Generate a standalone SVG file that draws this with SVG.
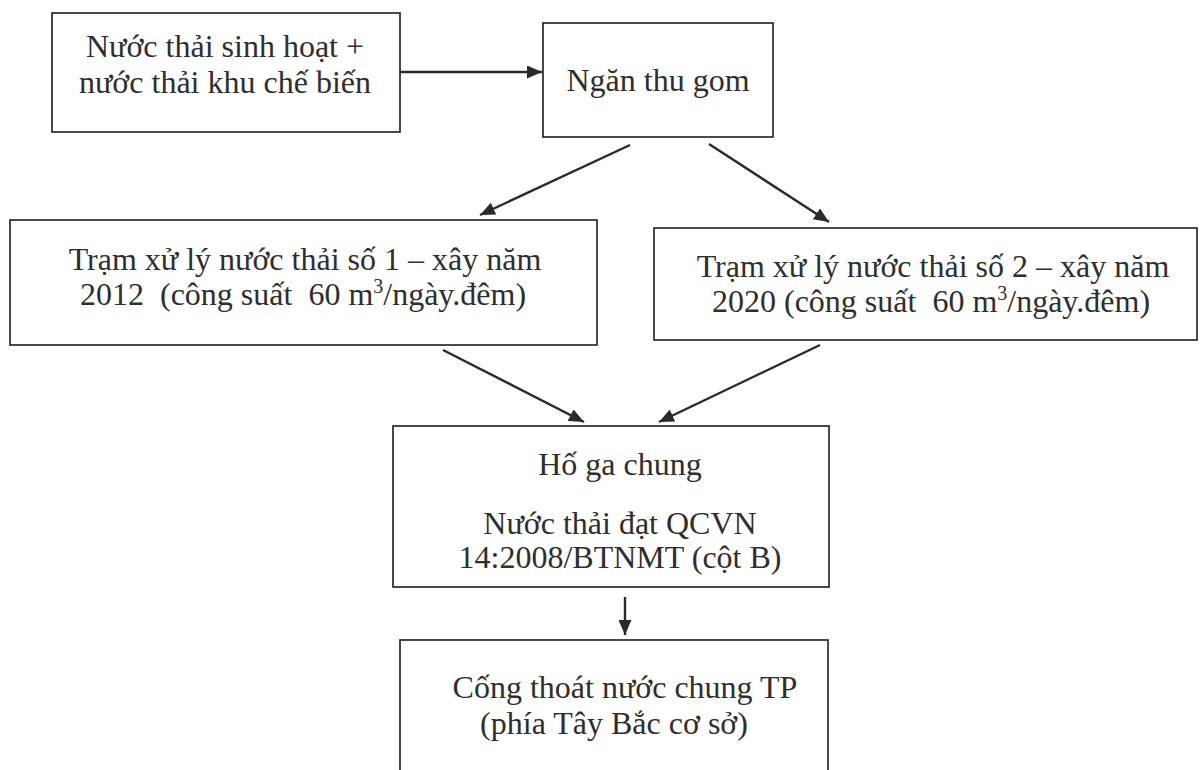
<svg xmlns="http://www.w3.org/2000/svg" width="1200" height="770" viewBox="0 0 1200 770">
  <style>
    .box { fill: none; stroke: #2a2a2a; stroke-width: 1.7; }
    .lbl { font-family: "Liberation Serif", "Times New Roman", serif; font-size: 32px; fill: #2e2e2e; text-anchor: middle; }
    .sup { font-size: 20px; }
    .conn { stroke: #2a2a2a; stroke-width: 2.4; fill: none; marker-end: url(#arrow); }
  </style>
  <defs>
    <marker id="arrow" markerUnits="userSpaceOnUse" markerWidth="16" markerHeight="13" refX="15" refY="6.5" orient="auto">
      <path d="M0,0 L15,6.5 L0,13 Z" fill="#2a2a2a"/>
    </marker>
  </defs>
  <rect width="1200" height="770" fill="#ffffff"/>

  <g id="connectors">
    <line class="conn" x1="400" y1="72" x2="542" y2="72"/>
    <line class="conn" x1="630" y1="145" x2="480" y2="215"/>
    <line class="conn" x1="709" y1="144" x2="829" y2="222"/>
    <line class="conn" x1="443" y1="350" x2="584" y2="422"/>
    <line class="conn" x1="820" y1="345" x2="659" y2="422"/>
    <line class="conn" x1="625" y1="597" x2="625" y2="635"/>
  </g>

  <g id="node-nuoc-thai">
    <rect class="box" x="52" y="13" width="348" height="119"/>
    <text class="lbl" x="225" y="57">Nước thải sinh hoạt +</text>
    <text class="lbl" x="225" y="93">nước thải khu chế biến</text>
  </g>

  <g id="node-ngan-thu-gom">
    <rect class="box" x="543" y="23" width="230" height="114"/>
    <text class="lbl" x="658" y="91">Ngăn thu gom</text>
  </g>

  <g id="node-tram-1">
    <rect class="box" x="10" y="220" width="587" height="125"/>
    <text class="lbl" x="305" y="270">Trạm xử lý nước thải số 1 – xây năm</text>
    <text class="lbl" x="303" y="305">2012 &#160;(công suất &#160;60 m<tspan class="sup" dy="-12">3</tspan><tspan dy="12">/ngày.đêm)</tspan></text>
  </g>

  <g id="node-tram-2">
    <rect class="box" x="654" y="228" width="543" height="112"/>
    <text class="lbl" x="933" y="277">Trạm xử lý nước thải số 2 – xây năm</text>
    <text class="lbl" x="931" y="312">2020 (công suất &#160;60 m<tspan class="sup" dy="-12">3</tspan><tspan dy="12">/ngày.đêm)</tspan></text>
  </g>

  <g id="node-ho-ga">
    <rect class="box" x="393" y="426" width="436" height="161"/>
    <text class="lbl" x="620" y="475">Hố ga chung</text>
    <text class="lbl" x="620" y="534">Nước thải đạt QCVN</text>
    <text class="lbl" x="620" y="568">14:2008/BTNMT (cột B)</text>
  </g>

  <g id="node-cong-thoat">
    <rect class="box" x="400" y="640" width="428" height="150"/>
    <text class="lbl" x="625" y="698">Cống thoát nước chung TP</text>
    <text class="lbl" x="614" y="734">(phía Tây Bắc cơ sở)</text>
  </g>
</svg>
